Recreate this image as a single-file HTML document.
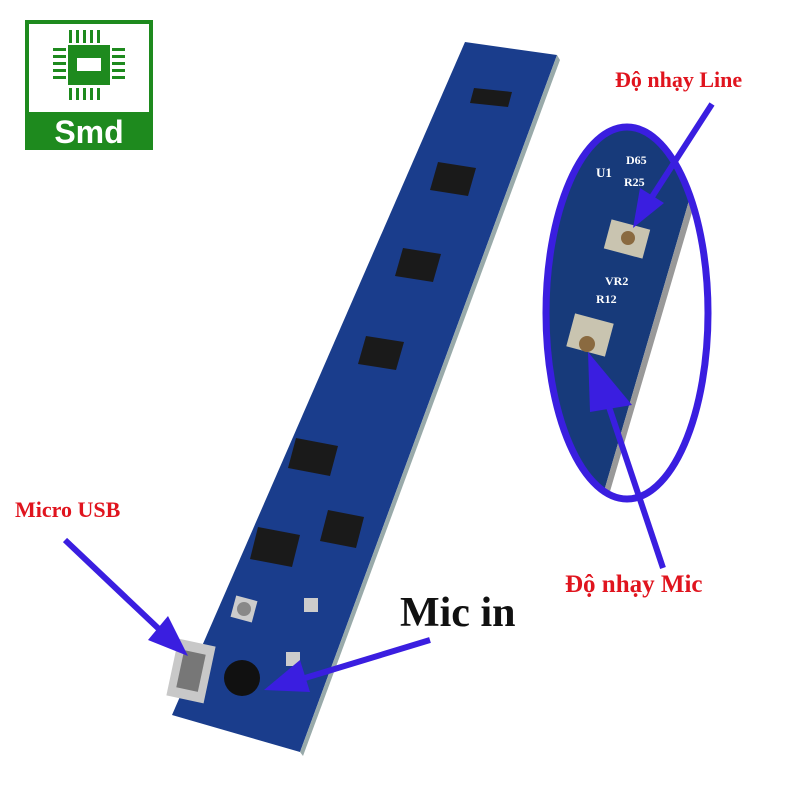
<!DOCTYPE html>
<html><head><meta charset="utf-8"><style>body{margin:0;background:#fff}</style></head>
<body>
<svg width="800" height="800" viewBox="0 0 800 800" xmlns="http://www.w3.org/2000/svg">
<defs><clipPath id="el"><ellipse cx="627" cy="313" rx="80" ry="185"/></clipPath></defs>
<rect width="800" height="800" fill="#fff"/>
<!-- logo -->
<rect x="25" y="20" width="128" height="130" fill="#1e8a1e"/>
<rect x="29" y="24" width="120" height="88" fill="#fff"/>
<rect x="68" y="45" width="42" height="40" fill="#1e8a1e"/>
<rect x="77" y="58" width="24" height="13" fill="#fff"/>
<g fill="#1e8a1e">
<rect x="69" y="30" width="3" height="13"/><rect x="76" y="30" width="3" height="13"/><rect x="83" y="30" width="3" height="13"/><rect x="90" y="30" width="3" height="13"/><rect x="97" y="30" width="3" height="13"/>
<rect x="69" y="88" width="3" height="12"/><rect x="76" y="88" width="3" height="12"/><rect x="83" y="88" width="3" height="12"/><rect x="90" y="88" width="3" height="12"/><rect x="97" y="88" width="3" height="12"/>
<rect x="53" y="48" width="13" height="3"/><rect x="53" y="55" width="13" height="3"/><rect x="53" y="62" width="13" height="3"/><rect x="53" y="69" width="13" height="3"/><rect x="53" y="76" width="13" height="3"/>
<rect x="112" y="48" width="13" height="3"/><rect x="112" y="55" width="13" height="3"/><rect x="112" y="62" width="13" height="3"/><rect x="112" y="69" width="13" height="3"/><rect x="112" y="76" width="13" height="3"/>
</g>
<text x="89" y="143" font-family="Liberation Sans, sans-serif" font-weight="bold" font-size="32" fill="#fff" text-anchor="middle">Smd</text>
<!-- board -->
<polygon points="465,42 557,55 300,752 172,715" fill="#1a3d8c"/>
<polygon points="557,55 560,60 303,756 300,752" fill="#9aa"/>
<g fill="#1a1a1a">
<polygon points="474,88 512,92 508,107 470,103"/>
<polygon points="438,162 476,168 468,196 430,190"/>
<polygon points="403,248 441,254 433,282 395,276"/>
<polygon points="366,336 404,342 396,370 358,364"/>
<polygon points="296,438 338,446 330,476 288,468"/>
<polygon points="328,510 364,517 356,548 320,541"/>
<polygon points="258,527 300,535 292,567 250,559"/>
</g>
<rect x="233" y="598" width="22" height="22" fill="#ccc" transform="rotate(15 244 609)"/>
<circle cx="244" cy="609" r="7" fill="#888"/>
<rect x="304" y="598" width="14" height="14" fill="#ccc"/>
<rect x="286" y="652" width="14" height="14" fill="#ccc"/>
<circle cx="242" cy="678" r="18" fill="#111"/>
<rect x="172" y="642" width="38" height="58" fill="#c8c8c8" transform="rotate(12 191 671)"/>
<rect x="180" y="652" width="22" height="38" fill="#777" transform="rotate(12 191 671)"/>
<!-- ellipse inset -->
<g clip-path="url(#el)">
<rect x="540" y="120" width="180" height="390" fill="#fff"/>
<polygon points="540,120 700,120 695,180 600,505 540,505" fill="#173a7a"/>
<polygon points="695,180 700,185 606,505 600,505" fill="#999"/>
<rect x="607" y="224" width="40" height="30" fill="#c9c4b0" transform="rotate(15 627 239)"/>
<circle cx="628" cy="238" r="7" fill="#8a6a40"/>
<rect x="570" y="318" width="40" height="34" fill="#c9c4b0" transform="rotate(15 590 335)"/>
<circle cx="587" cy="344" r="8" fill="#8a6a40"/>
<text x="596" y="177" fill="#fff" font-family="Liberation Serif,serif" font-weight="bold" font-size="13">U1</text>
<text x="626" y="164" fill="#fff" font-family="Liberation Serif,serif" font-weight="bold" font-size="12">D65</text>
<text x="624" y="186" fill="#fff" font-family="Liberation Serif,serif" font-weight="bold" font-size="12">R25</text>
<text x="605" y="285" fill="#fff" font-family="Liberation Serif,serif" font-weight="bold" font-size="12">VR2</text>
<text x="596" y="303" fill="#fff" font-family="Liberation Serif,serif" font-weight="bold" font-size="12">R12</text>
</g>
<ellipse cx="627" cy="313" rx="81" ry="186" fill="none" stroke="#3a1ee0" stroke-width="7"/>
<!-- arrows -->
<g stroke="#3a1ee0" stroke-width="6" fill="#3a1ee0">
<line x1="712" y1="104" x2="650" y2="200"/>
<polygon points="633,228 640,188 664,203" stroke="none"/>
<line x1="663" y1="568" x2="605" y2="395"/>
<polygon points="588,352 590,412 632,405" stroke="none"/>
<line x1="65" y1="540" x2="160" y2="630"/>
<polygon points="188,656 148,640 168,616" stroke="none"/>
<line x1="430" y1="640" x2="305" y2="678"/>
<polygon points="264,690 300,660 310,692" stroke="none"/>
</g>
<text x="615" y="87" fill="#e0141e" font-family="Liberation Serif,serif" font-weight="bold" font-size="22">Độ nhạy Line</text>
<text x="565" y="592" fill="#e0141e" font-family="Liberation Serif,serif" font-weight="bold" font-size="25">Độ nhạy Mic</text>
<text x="15" y="517" fill="#e0141e" font-family="Liberation Serif,serif" font-weight="bold" font-size="22">Micro USB</text>
<text x="400" y="626" fill="#111" font-family="Liberation Serif,serif" font-weight="bold" font-size="42">Mic in</text>
</svg>
</body></html>
